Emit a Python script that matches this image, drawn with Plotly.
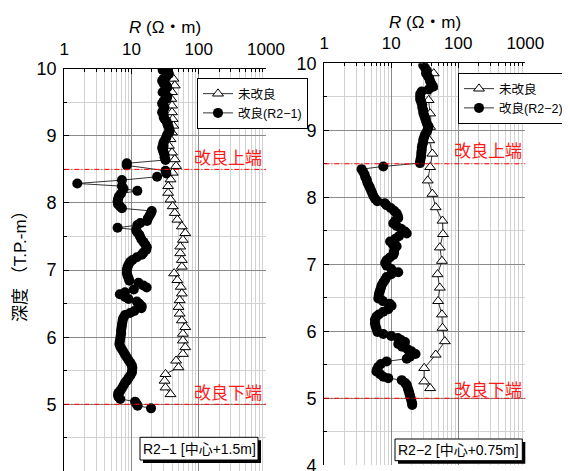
import plotly.graph_objects as go

W, H = 570, 471
OFF = 8  # page body margin in the browser

# ---------------- data ----------------
# Left panel (R2-1): improved ground, filled circles
left_imp_depth = [
    9.98, 9.95, 9.92, 9.88, 9.85, 9.82, 9.78, 9.75, 9.72, 9.68,
    9.65, 9.62, 9.58, 9.55, 9.52, 9.48, 9.45, 9.42, 9.38, 9.35,
    9.32, 9.28, 9.25, 9.22, 9.18, 9.15, 9.12, 9.08, 9.05, 9.02,
    8.98, 8.95, 8.92, 8.88, 8.85, 8.82, 8.78, 8.75, 8.72, 8.68,
    8.64, 8.59, 8.56, 8.48, 8.44, 8.39, 8.34, 8.29, 8.25, 8.21,
    8.18, 8.14, 8.10, 8.06, 8.02, 7.98, 7.95, 7.92, 7.88, 7.85,
    7.81, 7.77, 7.73, 7.70, 7.67, 7.63, 7.60, 7.57, 7.53, 7.50,
    7.46, 7.42, 7.38, 7.34, 7.30, 7.26, 7.23, 7.19, 7.15, 7.12,
    7.08, 7.04, 7.00, 6.96, 6.92, 6.88, 6.84, 6.81, 6.77, 6.74,
    6.71, 6.67, 6.64, 6.60, 6.57, 6.53, 6.50, 6.46, 6.43, 6.39,
    6.36, 6.33, 6.29, 6.26, 6.22, 6.18, 6.14, 6.10, 6.06, 6.02,
    5.98, 5.94, 5.90, 5.86, 5.82, 5.78, 5.74, 5.70, 5.66, 5.62,
    5.58, 5.54, 5.50, 5.47, 5.43, 5.39, 5.35, 5.32, 5.28, 5.24,
    5.20, 5.17, 5.14, 5.11, 5.08, 5.04, 5.01, 4.98, 4.94,
]
left_imp_R = [
    29, 35, 36, 33, 30, 28.5, 30, 33, 34, 31,
    29, 32, 34, 33, 30, 28.5, 30, 31, 29.5, 28.5,
    30, 30, 31, 33, 34, 35, 36, 37, 36, 34,
    33, 32, 30.5, 29.5, 30, 28.5, 29.5, 30, 31, 31,
    32, 8.5, 8.5, 32, 33, 24, 7.2, 1.56, 7.2, 7.6,
    12.2, 7.0, 6.5, 6.3, 6.2, 6.3, 6.7, 7.2, 20, 19.5,
    18.5, 17.5, 17, 13.5, 12.2, 6.2, 11.7, 12, 13, 13.4,
    14, 15, 16, 16.9, 16.5, 15, 14.2, 12, 10.3, 9.5,
    9, 8.7, 8.5, 8.5, 8.7, 9, 9.3, 12.7, 15, 16.8,
    10.8, 8, 6.7, 8, 9, 12, 13, 14.2, 14, 11,
    9.5, 8, 7.6, 7.4, 7.3, 7.2, 7.1, 7.0, 7.0, 6.9,
    6.8, 6.7, 6.6, 6.8, 7.2, 7.6, 8.0, 8.5, 9, 9.6,
    10.1, 10.3, 10.2, 10.1, 9.6, 9, 8.5, 8.0, 7.6, 7.2,
    6.8, 6.4, 6.3, 6.4, 6.8, 11.3, 11.8, 12.3, 19.5,
]

# Left panel: unimproved, open triangles
left_un_depth = [
    9.85, 9.75, 9.65, 9.55, 9.45, 9.35, 9.25, 9.15, 9.05, 8.95,
    8.85, 8.75, 8.65, 8.55, 8.45, 8.35, 8.25, 8.15, 8.05, 7.95,
    7.85, 7.75, 7.65, 7.55, 7.45, 7.35, 7.25, 7.15, 7.05, 6.95,
    6.85, 6.75, 6.65, 6.55, 6.45, 6.35, 6.25, 6.15, 6.05, 5.95,
    5.85, 5.75, 5.65, 5.55, 5.45, 5.35, 5.25, 5.15,
]
left_un_R = [
    42, 44, 40, 39, 40, 40, 41, 42, 40, 38,
    36, 40, 44, 46, 41, 38, 35, 35, 38, 41,
    44, 48, 56, 63, 58, 53, 53, 56, 56, 43,
    48, 54, 56, 52, 50, 52, 56, 63, 58, 58,
    63, 58, 46, 50, 32, 31, 32, 38,
]

# Right panel (R2-2): improved ground, filled circles
right_imp_depth = [
    9.97, 9.93, 9.89, 9.85, 9.81, 9.77, 9.73, 9.69, 9.65, 9.61,
    9.58, 9.54, 9.50, 9.46, 9.42, 9.38, 9.34, 9.30, 9.26, 9.22,
    9.18, 9.14, 9.10, 9.06, 9.02, 8.98, 8.94, 8.90, 8.86, 8.82,
    8.78, 8.74, 8.70, 8.66, 8.62, 8.58, 8.54, 8.51, 8.46, 8.42,
    8.38, 8.34, 8.30, 8.26, 8.22, 8.18, 8.14, 8.10, 8.06, 8.02,
    7.98, 7.94, 7.91, 7.88, 7.84, 7.80, 7.76, 7.72, 7.69, 7.65,
    7.61, 7.57, 7.53, 7.49, 7.46, 7.42, 7.38, 7.34, 7.30, 7.27,
    7.24, 7.20, 7.17, 7.14, 7.10, 7.06, 7.02, 6.98, 6.93, 6.88,
    6.85, 6.81, 6.77, 6.73, 6.69, 6.65, 6.61, 6.57, 6.53, 6.49,
    6.45, 6.41, 6.38, 6.33, 6.29, 6.25, 6.22, 6.17, 6.12, 6.08,
    6.04, 5.99, 5.96, 5.93, 5.90, 5.87, 5.84, 5.81, 5.77, 5.73,
    5.70, 5.66, 5.62, 5.59, 5.55, 5.51, 5.47, 5.43, 5.40, 5.36,
    5.32, 5.30, 5.27, 5.23, 5.20, 5.16, 5.12, 5.08, 5.04, 5.00,
    4.96, 4.92, 4.90,
]
right_imp_R = [
    30, 32, 34, 33, 35, 37, 38, 40, 42, 36,
    28.4, 27, 27, 27, 28, 29, 29, 30, 30, 31,
    32, 33, 34, 36, 35, 34, 32, 31, 30, 30,
    29, 28.5, 28.4, 28, 28, 27.5, 27, 26.8, 7.6, 3.6,
    3.8, 4.0, 4.1, 4.3, 4.4, 4.6, 4.8, 5.0, 5.2, 5.4,
    5.7, 6.2, 8.0, 8.5, 9.8, 11, 12, 12.5, 12.7, 11.5,
    10.7, 12, 14, 16, 17, 13, 11.5, 9.6, 10.5, 12,
    11.3, 11, 11, 10.7, 9.5, 8.5, 8.1, 8.5, 10, 12.7,
    10, 8.5, 8.1, 7.6, 7.2, 7.0, 6.8, 6.6, 6.5, 6.4,
    7.5, 9.5, 10.1, 9, 7.6, 6.5, 6.0, 5.7, 5.7, 5.8,
    6.0, 6.2, 7.6, 10, 12.5, 14, 16, 12.7, 14.5, 17.5,
    20, 23, 19, 17, 8.5, 7.0, 6.4, 6.1, 6.0, 6.8,
    7.6, 9, 14.3, 16, 17, 17.5, 18, 18.5, 19, 19.5,
    20, 20.5, 20.5,
]

# Right panel: unimproved, open triangles
right_un_depth = [
    9.85, 9.65, 9.45, 9.25, 9.05, 8.85, 8.65, 8.45, 8.25, 8.05,
    7.85, 7.65, 7.45, 7.25, 7.05, 6.85, 6.65, 6.45, 6.25, 6.05,
    5.85, 5.65, 5.45, 5.25, 5.15,
]
right_un_R = [
    43, 41, 36, 38, 38, 37, 41, 38, 35, 41,
    46, 58, 59, 53, 57, 49, 53, 50, 57, 58,
    63, 46, 31, 31, 38,
]

x_tick_vals = [1, 10, 100, 1000]
x_tick_text = ["1", "10", "100", "1000"]
boundary_depths = [8.5, 5.0]
boundary_labels = ["改良上端", "改良下端"]
series_names = ["未改良", "改良(R2−1)", "改良(R2−2)"]
panel_labels = ["R2−1 [中心+1.5m]", "R2−2 [中心+0.75m]"]
x_title = "<i>R</i> (Ω・m)"
y_title = "深度 （T.P.-m）"

# ---------------- layout helpers ----------------
FONT = "Liberation Sans, Arial, Noto Sans CJK JP, sans-serif"


def fx(p):
    return (p - OFF) / W


def fy(p):
    return 1 - (p - OFF) / H


minor_x = [m * 10 ** e for e in range(3) for m in range(2, 10)]

fig = go.Figure()

tri_marker = dict(symbol="triangle-up", size=9.5, color="white",
                  line=dict(color="black", width=1))
dot_marker = dict(symbol="circle", size=10, color="black",
                  line=dict(color="black", width=0))

fig.add_trace(go.Scatter(x=left_un_R, y=left_un_depth, mode="lines+markers",
                         name=series_names[0], marker=tri_marker,
                         line=dict(color="black", width=0.8),
                         xaxis="x", yaxis="y", legend="legend"))
fig.add_trace(go.Scatter(x=left_imp_R, y=left_imp_depth, mode="lines+markers",
                         name=series_names[1], marker=dot_marker,
                         line=dict(color="black", width=0.8),
                         xaxis="x", yaxis="y", legend="legend"))
fig.add_trace(go.Scatter(x=right_un_R, y=right_un_depth, mode="lines+markers",
                         name=series_names[0], marker=tri_marker,
                         line=dict(color="black", width=0.8),
                         xaxis="x2", yaxis="y2", legend="legend2"))
fig.add_trace(go.Scatter(x=right_imp_R, y=right_imp_depth, mode="lines+markers",
                         name=series_names[2], marker=dot_marker,
                         line=dict(color="black", width=0.8),
                         xaxis="x2", yaxis="y2", legend="legend2"))


def xaxis_cfg(dom, anchor):
    return dict(type="log", range=[0, 3], domain=dom, anchor=anchor, side="top",
                tickvals=x_tick_vals, ticktext=x_tick_text, automargin=False,
                showgrid=True, gridcolor="#8a8a8a", gridwidth=1,
                ticks="inside", ticklen=5, tickcolor="black",
                showline=True, linecolor="black", linewidth=1.2,
                tickfont=dict(size=17, color="black", family=FONT),
                ticklabelstandoff=6, zeroline=False,
                minor=dict(tickvals=minor_x, showgrid=True, gridcolor="#d2d2d2",
                           ticks="inside", ticklen=3, tickcolor="black"))


def yaxis_cfg(dom, anchor):
    return dict(range=[3.999, 10], domain=dom, anchor=anchor, tick0=4, dtick=1,
                automargin=False,
                showgrid=True, gridcolor="#8a8a8a", gridwidth=1,
                ticks="inside", ticklen=5, tickcolor="black",
                showline=True, linecolor="black", linewidth=1.2,
                tickfont=dict(size=18, color="black", family=FONT),
                ticklabelstandoff=3, zeroline=False,
                minor=dict(dtick=0.5, showgrid=True, gridcolor="#d2d2d2",
                           ticks="inside", ticklen=3, tickcolor="black"))


L_x0, L_x1, L_top, L_bot = 64.3, 266.0, 68.7, 471.5
R_x0, R_x1, R_top, R_bot = 324.3, 525.3, 63.3, 465.3

legend_common = dict(xanchor="left", yanchor="top", bgcolor="white",
                     bordercolor="black", borderwidth=1,
                     font=dict(size=12.5, color="black", family=FONT),
                     tracegroupgap=0, itemwidth=30)

fig.update_layout(
    width=W, height=H,
    margin=dict(l=0, r=0, t=0, b=0, autoexpand=False),
    paper_bgcolor="white", plot_bgcolor="white",
    font=dict(family=FONT, color="black"),
    xaxis=xaxis_cfg([fx(L_x0), fx(L_x1)], "y"),
    yaxis=yaxis_cfg([fy(L_bot), fy(L_top)], "x"),
    xaxis2=xaxis_cfg([fx(R_x0), fx(R_x1)], "y2"),
    yaxis2=yaxis_cfg([fy(R_bot), fy(R_top)], "x2"),
    legend=dict(x=fx(197), y=fy(78), **legend_common),
    legend2=dict(x=fx(458), y=fy(73), **legend_common),
    showlegend=True,
)

shapes = []
annotations = []

# red boundary lines + labels
label_pos = {
    ("x", "y"): [(228, 159), (228, 393)],
    ("x2", "y2"): [(488, 152), (488, 390)],
}
for (xr, yr), pos in label_pos.items():
    for dep, lab, (lx, ly) in zip(boundary_depths, boundary_labels, pos):
        shapes.append(dict(type="line", xref=f"{xr} domain", yref=yr,
                           x0=0, x1=1, y0=dep, y1=dep, layer="above",
                           line=dict(color="red", width=1, dash="5px,2px,1px,2px")))
        annotations.append(dict(text=lab, xref="paper", yref="paper",
                                x=fx(lx), y=fy(ly), showarrow=False,
                                xanchor="center", yanchor="middle",
                                font=dict(size=17, color="#ff1a1a", family=FONT)))

# panel label boxes with shadows
boxes = [(140, 437.3, 258, 460), (395, 439, 522.3, 460.7)]
for (bx0, by0, bx1, by1), lab in zip(boxes, panel_labels):
    shapes.append(dict(type="rect", xref="paper", yref="paper",
                       x0=fx(bx0 + 3), x1=fx(bx1 + 3), y0=fy(by1 + 3), y1=fy(by0 + 3),
                       fillcolor="black", line=dict(width=0), layer="above"))
    shapes.append(dict(type="rect", xref="paper", yref="paper",
                       x0=fx(bx0), x1=fx(bx1), y0=fy(by1), y1=fy(by0),
                       fillcolor="white", line=dict(color="black", width=1),
                       layer="above"))
    annotations.append(dict(text=lab, xref="paper", yref="paper",
                            x=fx((bx0 + bx1) / 2), y=fy((by0 + by1) / 2),
                            showarrow=False, xanchor="center", yanchor="middle",
                            font=dict(size=14, color="black", family=FONT)))

# axis titles
annotations.append(dict(text=x_title, xref="paper", yref="paper",
                        x=fx((L_x0 + L_x1) / 2), y=fy(28), showarrow=False,
                        xanchor="center", yanchor="middle",
                        font=dict(size=17, color="black", family=FONT)))
annotations.append(dict(text=x_title, xref="paper", yref="paper",
                        x=fx((R_x0 + R_x1) / 2), y=fy(23), showarrow=False,
                        xanchor="center", yanchor="middle",
                        font=dict(size=17, color="black", family=FONT)))
annotations.append(dict(text=y_title, xref="paper", yref="paper",
                        x=fx(20), y=fy(262), showarrow=False, textangle=-90,
                        xanchor="center", yanchor="middle",
                        font=dict(size=17, color="black", family=FONT)))

fig.update_layout(shapes=shapes, annotations=annotations)

fig.write_html("out.html")
